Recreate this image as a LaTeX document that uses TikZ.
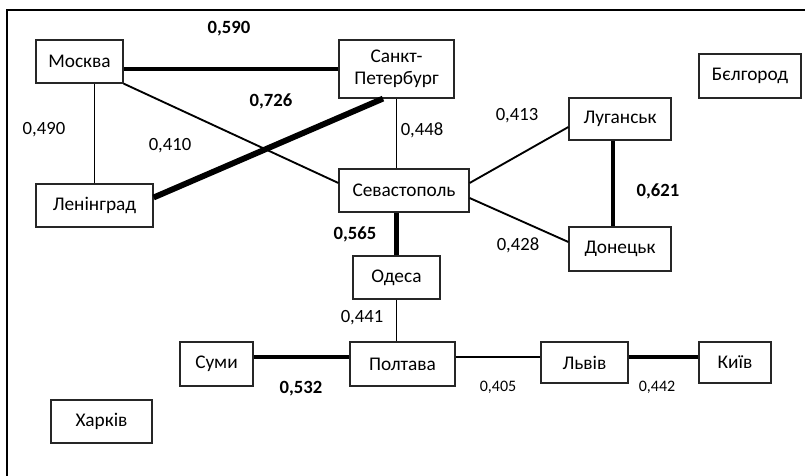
\documentclass[tikz,border=0pt]{standalone}
\usepackage{fontspec}
\setmainfont{Carlito}
\usetikzlibrary{calc}

\tikzset{
    city/.style={draw=black!85, line width=0.9pt, fill=white, inner sep=0pt, font=\fontsize{14.5}{16.5}\selectfont},
    weak/.style={line width=1.4pt},
    strong/.style={line width=3.7pt},
    val/.style={font=\fontsize{14}{16}\selectfont},
    bigval/.style={font=\fontsize{14}{16}\selectfont\bfseries},
    smallval/.style={font=\fontsize{12}{14}\selectfont}
}

\begin{document}
\begin{tikzpicture}[x=0.75pt, y=-0.75pt]
    \useasboundingbox (0,0) rectangle (805,475);

    % Frame
    \draw[line width=1.5pt] (7,480) -- (7,10) -- (810,10);

    % Cities
    \node[city, minimum width=65.25pt, minimum height=32.25pt] (moskva) at (79.5,61.5) {Москва};
    \node[city, minimum width=86.25pt, minimum height=43.5pt, align=center] (spb) at (396.5,69) {Санкт-\\Петербург};
    \node[city, minimum width=76.5pt, minimum height=33pt] (belgorod) at (750,76) {Бєлгород};
    \node[city, minimum width=76.5pt, minimum height=31.5pt] (lugansk) at (620,119) {Луганськ};
    \node[city, minimum width=97.5pt, minimum height=32.25pt] (sevastopol) at (404,190.5) {Севастополь};
    \node[city, minimum width=87.75pt, minimum height=32.25pt] (leningrad) at (94.5,205.5) {Ленінград};
    \node[city, minimum width=76.5pt, minimum height=33pt] (donetsk) at (620,249) {Донецьк};
    \node[city, minimum width=65.25pt, minimum height=32.25pt] (odesa) at (396.5,277.5) {Одеса};
    \node[city, minimum width=54.75pt, minimum height=33pt] (sumy) at (216.5,364) {Суми};
    \node[city, minimum width=78.75pt, minimum height=33pt] (poltava) at (402.5,364) {Полтава};
    \node[city, minimum width=65.25pt, minimum height=30.75pt] (lviv) at (584.5,362.5) {Львів};
    \node[city, minimum width=54pt, minimum height=30.75pt] (kyiv) at (735,362.5) {Київ};
    \node[city, minimum width=75.75pt, minimum height=32.25pt] (kharkiv) at (101.5,421.5) {Харків};

    % Links
    \draw[strong] (spb.west) -- (spb.west -| moskva.east);
    \draw[weak] (leningrad.north) -- (leningrad.north |- moskva.south);
    \draw[weak] (moskva.south east) -- ($(sevastopol.west)+(0,-7.5)$);
    \draw[line width=4.4pt] ($(leningrad.east)+(0,-8)$) -- ($(spb.south)+(-13.5,0)$);
    \draw[weak] (spb.south) -- (spb.south |- sevastopol.north);
    \draw[weak] ($(sevastopol.east)+(0,-7.5)$) -- ($(lugansk.west)+(0,8)$);
    \draw[weak] ($(sevastopol.east)+(0,7.5)$) -- ($(donetsk.west)+(0,-7)$);
    \draw[strong] ($(lugansk.south)+(-7,0)$) -- ($(donetsk.north)+(-7,0)$);
    \draw[strong] (odesa.north) -- (odesa.north |- sevastopol.south);
    \draw[weak] (odesa.south) -- (odesa.south |- poltava.north);
    \draw[strong] ($(sumy.east)+(0,-7)$) -- ($(poltava.west)+(0,-7)$);
    \draw[line width=1.7pt] ($(poltava.east)+(0,-7)$) -- ($(lviv.west)+(0,-5.5)$);
    \draw[line width=2.3pt] ($(lviv.east)+(0,-5.5)$) -- ($(kyiv.west)+(0,-5.5)$);

    % Values
    \node[bigval] (v590) at (229,29) {0,590};
    \node[val] (v490) at (44,130) {0,490};
    \node[val] (v410) at (170,146) {0,410};
    \node[bigval] (v726) at (271,101) {0,726};
    \node[val] (v448) at (422,130) {0,448};
    \node[val] (v413) at (517,116) {0,413};
    \node[val] (v428) at (518,245) {0,428};
    \node[bigval] (v621) at (658,191) {0,621};
    \node[bigval] (v565) at (355,234) {0,565};
    \node[val] (v441) at (362,318) {0,441};
    \node[bigval] (v532) at (301,389) {0,532};
    \node[smallval] (v405) at (498,387) {0,405};
    \node[smallval] (v442) at (657,387) {0,442};
\end{tikzpicture}
\end{document}
